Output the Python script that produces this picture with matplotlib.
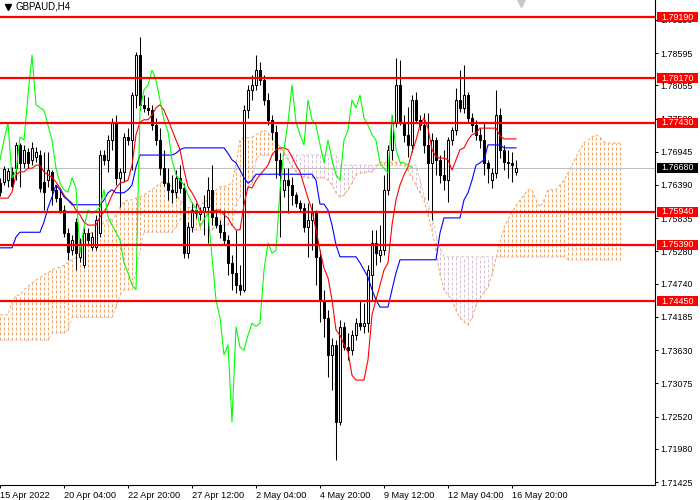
import matplotlib
matplotlib.use("Agg")
import matplotlib.pyplot as plt
import matplotlib.transforms as mtransforms
from matplotlib.patches import Rectangle
from matplotlib.lines import Line2D
import numpy as np

plt.rcParams['font.family'] = ['Liberation Sans', 'DejaVu Sans']
plt.rcParams['lines.scale_dashes'] = False

symbol = "GBPAUD,H4"
time_labels = ["15 Apr 2022", "20 Apr 04:00", "22 Apr 20:00", "27 Apr 12:00",
               "2 May 04:00", "4 May 20:00", "9 May 12:00", "12 May 04:00",
               "16 May 20:00"]
y_ticks = [1.79150, 1.78595, 1.78055, 1.77500, 1.76945, 1.76390, 1.75835,
           1.75280, 1.74740, 1.74185, 1.73630, 1.73075, 1.72520, 1.71980, 1.71425]
levels = [1.7919, 1.7817, 1.7743, 1.7594, 1.7539, 1.7445]
last_price = 1.7668

# H4 candles, oldest first
opens = [1.7642, 1.7644, 1.7647, 1.7661, 1.7667, 1.7706, 1.7676, 1.7694, 1.7681, 1.7686,
         1.7689, 1.7644, 1.7647, 1.7661, 1.7631, 1.7617, 1.7597, 1.7559, 1.7530, 1.7577,
         1.7519, 1.7505, 1.7559, 1.7535, 1.7535, 1.7559, 1.7689, 1.7681, 1.7714, 1.7743,
         1.7651, 1.7661, 1.7719, 1.7714, 1.7789, 1.7856, 1.7773, 1.7768, 1.7764, 1.7739,
         1.7714, 1.7667, 1.7642, 1.7631, 1.7627, 1.7651, 1.7634, 1.7525, 1.7569, 1.7597,
         1.7591, 1.7596, 1.7602, 1.7631, 1.7586, 1.7572, 1.7560, 1.7547, 1.7509, 1.7492,
         1.7472, 1.7464, 1.7764, 1.7798, 1.7806, 1.7831, 1.7814, 1.7781, 1.7748, 1.7728,
         1.7681, 1.7631, 1.7647, 1.7639, 1.7622, 1.7609, 1.7601, 1.7569, 1.7581, 1.7592,
         1.7519, 1.7447, 1.7417, 1.7355, 1.7372, 1.7243, 1.7402, 1.7368, 1.7363, 1.7388,
         1.7408, 1.7403, 1.7408, 1.7489, 1.7542, 1.7522, 1.7530, 1.7631, 1.7698, 1.7744,
         1.7806, 1.7744, 1.7723, 1.7706, 1.7781, 1.7748, 1.7739, 1.7706, 1.7676, 1.7714,
         1.7681, 1.7656, 1.7647, 1.7714, 1.7731, 1.7781, 1.7768, 1.7789, 1.7751, 1.7739,
         1.7723, 1.7714, 1.7676, 1.7647, 1.7659, 1.7756, 1.7698, 1.7677, 1.7676, 1.7661]
highs = [1.7651, 1.7671, 1.7667, 1.7669, 1.7711, 1.7709, 1.7706, 1.7701, 1.7711, 1.7703,
         1.7698, 1.7694, 1.7694, 1.7664, 1.7639, 1.7631, 1.7606, 1.7567, 1.7555, 1.7584,
         1.7550, 1.7567, 1.7567, 1.7560, 1.7589, 1.7698, 1.7698, 1.7723, 1.7751, 1.7756,
         1.7667, 1.7726, 1.7734, 1.7794, 1.7861, 1.7886, 1.7789, 1.7786, 1.7773, 1.7751,
         1.7734, 1.7698, 1.7667, 1.7656, 1.7664, 1.7672, 1.7642, 1.7577, 1.7611, 1.7609,
         1.7602, 1.7622, 1.7652, 1.7672, 1.7597, 1.7581, 1.7597, 1.7555, 1.7522, 1.7564,
         1.7505, 1.7773, 1.7806, 1.7823, 1.7856, 1.7845, 1.7823, 1.7793, 1.7756, 1.7739,
         1.7692, 1.7667, 1.7667, 1.7652, 1.7627, 1.7614, 1.7609, 1.7609, 1.7609, 1.7597,
         1.7530, 1.7464, 1.7430, 1.7383, 1.7380, 1.7413, 1.7410, 1.7392, 1.7397, 1.7417,
         1.7447, 1.7442, 1.7505, 1.7564, 1.7564, 1.7572, 1.7656, 1.7706, 1.7756, 1.7851,
         1.7848, 1.7756, 1.7769, 1.7789, 1.7794, 1.7756, 1.7759, 1.7759, 1.7726, 1.7719,
         1.7689, 1.7698, 1.7719, 1.7736, 1.7801, 1.7831, 1.7840, 1.7794, 1.7759, 1.7748,
         1.7734, 1.7744, 1.7681, 1.7667, 1.7798, 1.7768, 1.7706, 1.7698, 1.7694, 1.7681]
lows = [1.7621, 1.7639, 1.7636, 1.7634, 1.7647, 1.7636, 1.7667, 1.7667, 1.7672, 1.7677,
        1.7627, 1.7597, 1.7636, 1.7606, 1.7611, 1.7592, 1.7552, 1.7514, 1.7522, 1.7497,
        1.7510, 1.7500, 1.7539, 1.7530, 1.7530, 1.7552, 1.7672, 1.7661, 1.7698, 1.7639,
        1.7602, 1.7644, 1.7706, 1.7664, 1.7768, 1.7764, 1.7761, 1.7756, 1.7731, 1.7706,
        1.7656, 1.7637, 1.7614, 1.7609, 1.7617, 1.7626, 1.7517, 1.7517, 1.7560, 1.7584,
        1.7581, 1.7555, 1.7542, 1.7572, 1.7567, 1.7550, 1.7539, 1.7489, 1.7464, 1.7459,
        1.7455, 1.7460, 1.7751, 1.7781, 1.7798, 1.7806, 1.7773, 1.7739, 1.7714, 1.7651,
        1.7552, 1.7619, 1.7592, 1.7606, 1.7602, 1.7594, 1.7560, 1.7519, 1.7530, 1.7472,
        1.7410, 1.7385, 1.7318, 1.7296, 1.7179, 1.7238, 1.7363, 1.7347, 1.7355, 1.7380,
        1.7397, 1.7392, 1.7393, 1.7447, 1.7505, 1.7510, 1.7522, 1.7622, 1.7681, 1.7736,
        1.7739, 1.7711, 1.7686, 1.7694, 1.7744, 1.7731, 1.7692, 1.7614, 1.7581, 1.7656,
        1.7642, 1.7631, 1.7611, 1.7706, 1.7723, 1.7761, 1.7759, 1.7744, 1.7728, 1.7714,
        1.7701, 1.7656, 1.7642, 1.7634, 1.7651, 1.7684, 1.7664, 1.7651, 1.7644, 1.7656]
closes = [1.7627, 1.7666, 1.7662, 1.7637, 1.7706, 1.7676, 1.7698, 1.7676, 1.7701, 1.7694,
          1.7634, 1.7627, 1.7664, 1.7631, 1.7617, 1.7597, 1.7559, 1.7527, 1.7547, 1.7525,
          1.7542, 1.7559, 1.7547, 1.7552, 1.7581, 1.7689, 1.7681, 1.7714, 1.7743, 1.7651,
          1.7661, 1.7719, 1.7714, 1.7789, 1.7856, 1.7773, 1.7768, 1.7764, 1.7739, 1.7714,
          1.7667, 1.7642, 1.7631, 1.7627, 1.7651, 1.7634, 1.7525, 1.7569, 1.7597, 1.7592,
          1.7596, 1.7602, 1.7631, 1.7586, 1.7572, 1.7560, 1.7547, 1.7509, 1.7492, 1.7472,
          1.7464, 1.7764, 1.7798, 1.7806, 1.7831, 1.7814, 1.7781, 1.7748, 1.7728, 1.7681,
          1.7656, 1.7647, 1.7639, 1.7622, 1.7609, 1.7601, 1.7569, 1.7581, 1.7592, 1.7519,
          1.7447, 1.7417, 1.7355, 1.7372, 1.7243, 1.7402, 1.7368, 1.7363, 1.7388, 1.7408,
          1.7403, 1.7408, 1.7497, 1.7542, 1.7525, 1.7530, 1.7631, 1.7698, 1.7744, 1.7806,
          1.7744, 1.7723, 1.7706, 1.7781, 1.7748, 1.7739, 1.7706, 1.7676, 1.7714, 1.7681,
          1.7656, 1.7647, 1.7714, 1.7731, 1.7781, 1.7768, 1.7789, 1.7751, 1.7739, 1.7723,
          1.7714, 1.7676, 1.7667, 1.7659, 1.7756, 1.7698, 1.7677, 1.7676, 1.7672, 1.7668]

# Ichimoku lines
tenkan = [1.7617, 1.7617, 1.7617, 1.7627, 1.7656, 1.7661, 1.7661, 1.7667, 1.7667, 1.7672,
          1.7672, 1.7661, 1.7656, 1.7652, 1.7644, 1.7634, 1.7622, 1.7614, 1.7609, 1.7597,
          1.7589, 1.7577, 1.7572, 1.7572, 1.7572, 1.7586, 1.7594, 1.7606, 1.7622, 1.7634,
          1.7642, 1.7644, 1.7647, 1.7672, 1.7723, 1.7744, 1.7748, 1.7748, 1.7756, 1.7768,
          1.7773, 1.7764, 1.7748, 1.7731, 1.7714, 1.7698, 1.7664, 1.7636, 1.7626, 1.7614,
          1.7597, 1.7594, 1.7594, 1.7594, 1.7597, 1.7597, 1.7589, 1.7584, 1.7572, 1.7564,
          1.7564, 1.7606, 1.7636, 1.7634, 1.7647, 1.7656, 1.7664, 1.7672, 1.7689, 1.7698,
          1.7701, 1.7701, 1.7698, 1.7686, 1.7672, 1.7661, 1.7639, 1.7617, 1.7597, 1.7564,
          1.7530, 1.7500, 1.7484, 1.7447, 1.7397, 1.7388, 1.7372, 1.7360, 1.7321, 1.7313,
          1.7313, 1.7313, 1.7347, 1.7422, 1.7447, 1.7472, 1.7497, 1.7509, 1.7572, 1.7614,
          1.7639, 1.7656, 1.7669, 1.7694, 1.7714, 1.7739, 1.7751, 1.7734, 1.7698, 1.7686,
          1.7684, 1.7684, 1.7681, 1.7664, 1.7681, 1.7698, 1.7701, 1.7714, 1.7723, 1.7726,
          1.7734, 1.7734, 1.7734, 1.7734, 1.7734, 1.7721, 1.7716, 1.7716, 1.7716, 1.7716]
kijun = [1.7534, 1.7534, 1.7534, 1.7534, 1.7552, 1.7560, 1.7560, 1.7560, 1.7560, 1.7560,
         1.7560, 1.7577, 1.7601, 1.7619, 1.7639, 1.7631, 1.7619, 1.7614, 1.7606, 1.7606,
         1.7606, 1.7606, 1.7606, 1.7606, 1.7606, 1.7606, 1.7614, 1.7626, 1.7631, 1.7626,
         1.7626, 1.7626, 1.7631, 1.7639, 1.7669, 1.7689, 1.7689, 1.7689, 1.7689, 1.7689,
         1.7689, 1.7689, 1.7689, 1.7689, 1.7692, 1.7698, 1.7701, 1.7701, 1.7701, 1.7701,
         1.7701, 1.7701, 1.7701, 1.7701, 1.7701, 1.7701, 1.7701, 1.7692, 1.7681, 1.7676,
         1.7664, 1.7651, 1.7642, 1.7647, 1.7657, 1.7657, 1.7657, 1.7657, 1.7657, 1.7657,
         1.7657, 1.7657, 1.7657, 1.7657, 1.7657, 1.7657, 1.7657, 1.7657, 1.7657, 1.7647,
         1.7607, 1.7607, 1.7597, 1.7572, 1.7539, 1.7519, 1.7519, 1.7519, 1.7519, 1.7519,
         1.7509, 1.7497, 1.7485, 1.7464, 1.7447, 1.7435, 1.7435, 1.7435, 1.7464, 1.7492,
         1.7514, 1.7514, 1.7514, 1.7514, 1.7514, 1.7514, 1.7514, 1.7514, 1.7514, 1.7514,
         1.7559, 1.7584, 1.7584, 1.7584, 1.7584, 1.7584, 1.7614, 1.7626, 1.7647, 1.7672,
         1.7676, 1.7681, 1.7706, 1.7706, 1.7706, 1.7706, 1.7701, 1.7701, 1.7701, 1.7701]
span_a = [1.7422, 1.7422, 1.7422, 1.7442, 1.7455, 1.7455, 1.7464, 1.7469, 1.7475, 1.7480,
          1.7484, 1.7489, 1.7492, 1.7497, 1.7500, 1.7502, 1.7505, 1.7509, 1.7514, 1.7517,
          1.7525, 1.7539, 1.7555, 1.7560, 1.7564, 1.7569, 1.7577, 1.7581, 1.7581, 1.7589,
          1.7602, 1.7611, 1.7614, 1.7614, 1.7617, 1.7619, 1.7622, 1.7627, 1.7631, 1.7636,
          1.7642, 1.7644, 1.7642, 1.7636, 1.7622, 1.7614, 1.7606, 1.7601, 1.7601, 1.7602,
          1.7606, 1.7609, 1.7614, 1.7617, 1.7631, 1.7636, 1.7636, 1.7639, 1.7642, 1.7672,
          1.7714, 1.7718, 1.7718, 1.7719, 1.7723, 1.7726, 1.7731, 1.7726, 1.7718, 1.7709,
          1.7703, 1.7694, 1.7681, 1.7669, 1.7661, 1.7656, 1.7652, 1.7651, 1.7651, 1.7651,
          1.7651, 1.7651, 1.7647, 1.7639, 1.7626, 1.7619, 1.7622, 1.7631, 1.7642, 1.7656,
          1.7659, 1.7659, 1.7661, 1.7661, 1.7669, 1.7677, 1.7677, 1.7677, 1.7676, 1.7677,
          1.7677, 1.7672, 1.7664, 1.7651, 1.7639, 1.7626, 1.7614, 1.7589, 1.7564, 1.7530,
          1.7489, 1.7464, 1.7455, 1.7447, 1.7430, 1.7417, 1.7410, 1.7405, 1.7417, 1.7438,
          1.7450, 1.7459, 1.7469, 1.7489, 1.7517, 1.7544, 1.7567, 1.7581, 1.7594, 1.7604,
          1.7614, 1.7622, 1.7631, 1.7631, 1.7614, 1.7602, 1.7614, 1.7631, 1.7631, 1.7631,
          1.7639, 1.7647, 1.7659, 1.7672, 1.7686, 1.7698, 1.7709, 1.7714, 1.7719, 1.7723,
          1.7719, 1.7711, 1.7709, 1.7709, 1.7709, 1.7709]
span_b = [1.7380, 1.7380, 1.7380, 1.7380, 1.7380, 1.7380, 1.7380, 1.7380, 1.7380, 1.7380,
          1.7380, 1.7380, 1.7380, 1.7392, 1.7392, 1.7392, 1.7392, 1.7397, 1.7418, 1.7418,
          1.7418, 1.7418, 1.7418, 1.7418, 1.7418, 1.7418, 1.7418, 1.7418, 1.7418, 1.7435,
          1.7455, 1.7464, 1.7464, 1.7464, 1.7497, 1.7530, 1.7560, 1.7560, 1.7560, 1.7560,
          1.7560, 1.7560, 1.7560, 1.7560, 1.7569, 1.7581, 1.7586, 1.7564, 1.7564, 1.7564,
          1.7564, 1.7564, 1.7564, 1.7564, 1.7572, 1.7572, 1.7572, 1.7572, 1.7572, 1.7606,
          1.7619, 1.7627, 1.7634, 1.7642, 1.7681, 1.7689, 1.7689, 1.7689, 1.7689, 1.7689,
          1.7689, 1.7689, 1.7689, 1.7689, 1.7689, 1.7689, 1.7689, 1.7689, 1.7689, 1.7689,
          1.7689, 1.7689, 1.7689, 1.7689, 1.7689, 1.7672, 1.7672, 1.7672, 1.7672, 1.7672,
          1.7672, 1.7672, 1.7672, 1.7672, 1.7672, 1.7672, 1.7672, 1.7672, 1.7672, 1.7672,
          1.7672, 1.7672, 1.7672, 1.7672, 1.7672, 1.7647, 1.7622, 1.7606, 1.7589, 1.7555,
          1.7534, 1.7519, 1.7519, 1.7519, 1.7519, 1.7519, 1.7519, 1.7519, 1.7519, 1.7519,
          1.7519, 1.7519, 1.7519, 1.7519, 1.7519, 1.7519, 1.7519, 1.7519, 1.7519, 1.7519,
          1.7519, 1.7519, 1.7519, 1.7519, 1.7519, 1.7519, 1.7519, 1.7519, 1.7519, 1.7519,
          1.7519, 1.7519, 1.7514, 1.7514, 1.7514, 1.7514, 1.7514, 1.7514, 1.7514, 1.7514,
          1.7514, 1.7514, 1.7514, 1.7514, 1.7514, 1.7514]
chikou_shift = 26

W, H = 700, 500
AX_R, AX_B = 655, 485          # plot area edges in pixels
ymin, ymax = 1.71377, 1.79481

fig = plt.figure(figsize=(W / 100, H / 100), dpi=100)
ax = fig.add_axes([0, (H - AX_B) / H, AX_R / W, AX_B / H])
ax.set_xlim(0, AX_R / 4)       # 4 px per bar
ax.set_ylim(ymin, ymax)

dash = (0, (2.16, 1.44))
orange, lilac = '#F4A460', '#D8BFD8'

# cloud, drawn as dotted columns like the terminal does
a = np.array(span_a)
b = np.array(span_b)
kc = np.arange(len(a))
up_cloud = a >= b
ax.vlines(kc[up_cloud], b[up_cloud], a[up_cloud], colors=orange, linestyles=dash,
          lw=0.72, zorder=1, snap=True)
ax.vlines(kc[~up_cloud], a[~up_cloud], b[~up_cloud], colors=lilac, linestyles=dash,
          lw=0.72, zorder=1, snap=True)
ax.plot(kc, a, color=orange, ls=dash, lw=0.72, zorder=1.1)
ax.plot(kc, b, color=lilac, ls=dash, lw=0.72, zorder=1.1)

# last price line
ax.axhline(last_price, color='#C0C0C0', lw=0.75, zorder=1.5)

# candles
o = np.array(opens); c = np.array(closes)
hi = np.array(highs); lo = np.array(lows)
idx = np.arange(len(c))
bull = c >= o
ax.vlines(idx, lo, hi, color='black', lw=0.75, zorder=3)
body = np.maximum(np.abs(c - o), 0.00003)
ax.bar(idx, body, bottom=np.minimum(o, c), width=0.62,
       color=np.where(bull, 'white', 'black'), edgecolor='black', linewidth=0.75, zorder=3.5)

# ichimoku lines
ax.plot(idx, tenkan, color='#FF0000', lw=0.8, zorder=4)
ax.plot(idx, kijun, color='#0000FF', lw=0.8, zorder=4)
ax.plot(idx[:-chikou_shift], c[chikou_shift:], color='#00FF00', lw=0.8, zorder=4)

# horizontal levels
for lv in levels:
    ax.axhline(lv, color='#FF0000', lw=1.6, zorder=6)

# axes styling
for s in ['left', 'top']:
    ax.spines[s].set_visible(False)
for s in ['right', 'bottom']:
    ax.spines[s].set_linewidth(0.8)
ax.yaxis.tick_right()
ax.set_yticks(y_ticks)
ax.set_yticklabels([f"{t:.5f}" for t in y_ticks])
ax.tick_params(axis='y', direction='out', length=2.5, width=0.75, labelsize=6.4, pad=1.3)
ax.set_xticks([i * 16 for i in range(len(time_labels))])
ax.set_xticklabels(time_labels)
ax.tick_params(axis='x', direction='out', length=2.5, width=0.75, labelsize=6.6, pad=1.5)
for lab in ax.get_xticklabels():
    lab.set_ha('left')

# price boxes on the right scale (they sit over the scale labels, as in the terminal)
blend = mtransforms.blended_transform_factory(fig.transFigure, ax.transData)
box_h = 10 * (ymax - ymin) / AX_B


def price_box(p, fc):
    ax.add_patch(Rectangle((657 / W, p - box_h / 2), 41 / W, box_h, transform=blend,
                           facecolor=fc, edgecolor='none', clip_on=False, zorder=7))
    ax.text(677.5 / W, p, f"{p:.5f}", transform=blend, color='white', fontsize=6.4,
            ha='center', va='center', zorder=8, clip_on=False)


for lv in levels:
    price_box(lv, '#FF0000')
price_box(last_price, 'black')

# header
fig.add_artist(Line2D([7.5 / W], [1 - 6.5 / H], marker='v', markersize=4.5, color='black',
                      transform=fig.transFigure))
fig.text(15 / W, 1 - 6.5 / H, symbol, fontsize=7, ha='left', va='center')
fig.add_artist(Line2D([521 / W], [1 - 3 / H], marker='v', markersize=6, color='#C8C8C8',
                      transform=fig.transFigure))

fig.savefig('out.png', dpi=100)
